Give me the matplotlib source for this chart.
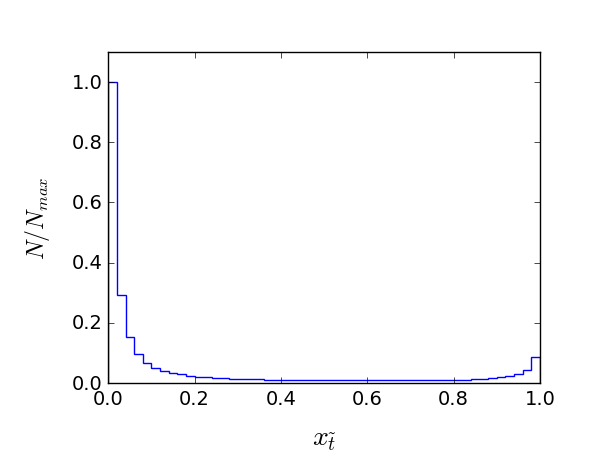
import numpy as np
import matplotlib
matplotlib.use("Agg")
import matplotlib.pyplot as plt

plt.style.use("classic")

# normalised histogram counts, 50 bins on [0, 1]
bin_edges = np.linspace(0.0, 1.0, 51)
counts = [1.0, 0.293, 0.152, 0.097, 0.068, 0.052, 0.042, 0.035, 0.030, 0.025,
          0.022, 0.020, 0.018, 0.016, 0.015, 0.014, 0.013, 0.013, 0.012, 0.012,
          0.011, 0.011, 0.011, 0.010, 0.010, 0.010, 0.010, 0.010, 0.009, 0.009,
          0.009, 0.009, 0.010, 0.010, 0.010, 0.010, 0.010, 0.010, 0.011, 0.011,
          0.011, 0.012, 0.013, 0.015, 0.017, 0.019, 0.024, 0.031, 0.044, 0.088]

centers = 0.5 * (bin_edges[:-1] + bin_edges[1:])

fig = plt.figure(figsize=(5.98, 4.64), dpi=100, facecolor="white")
ax = fig.add_axes([0.181, 0.172, 0.722, 0.714])

ax.hist(centers, bins=bin_edges, weights=counts, histtype="step",
        color="b", linewidth=1)

ax.set_xlim(0, 1)
ax.set_ylim(0, 1.1)
ax.set_xticks([0.0, 0.2, 0.4, 0.6, 0.8, 1.0])
ax.set_yticks([0.0, 0.2, 0.4, 0.6, 0.8, 1.0])
ax.tick_params(labelsize=14)

ax.set_xlabel(r"$x_{\tilde{t}}$", fontsize=20, labelpad=12)
ax.set_ylabel(r"$N/N_{max}$", fontsize=17, labelpad=14)

fig.savefig("out.png", dpi=100, facecolor="white")
